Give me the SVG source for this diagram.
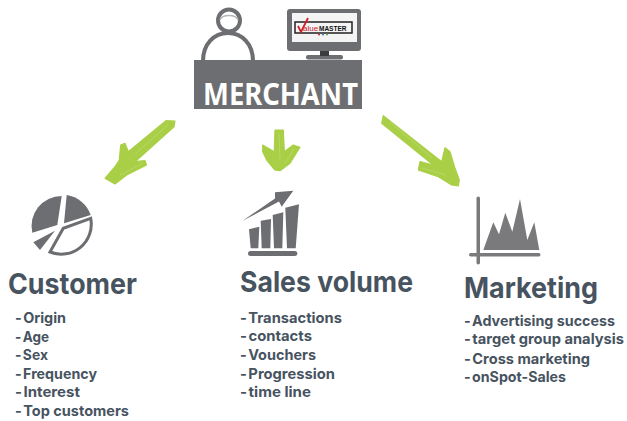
<svg xmlns="http://www.w3.org/2000/svg" width="627" height="421" viewBox="0 0 627 421">
<style>
.g{fill:#6d6e71}
.a{fill:#a9cf46;stroke:#a9cf46;stroke-width:1.200;stroke-linejoin:round}
.a2{fill:none;stroke:#c5df85;stroke-width:1;opacity:.5}
.h{font-family:Inter,"Noto Sans","Liberation Sans",sans-serif;font-weight:700;font-size:29px;fill:#47535f}
.t{font-family:Inter,"Noto Sans","Liberation Sans",sans-serif;font-weight:700;font-size:14.500px;fill:#47535f}
.d{word-spacing:-2px}
</style>
<rect width="627" height="421" fill="#fff"/>
<g id="connectors">
<g id="arrow-left">
<path class="a" d="M166 120.700L175 121L174 126.700L135 161.700L145 160.700L146.500 165L126.700 175L115 184L105 178.300L115 166.700L119.300 160L120.700 145L125 143.300L128.300 151.700Z"/>
<path class="a2" d="M168 125L135 154M143 163L120 175"/>
</g>
<g id="arrow-mid">
<path class="a" d="M275 130L283.300 130L284.300 151.700L293.300 145L300 147.300L290 163.300L280 170.700L275 170L266.700 160L262.700 151.700L262.700 145L274.300 151.700Z"/>
<path class="a2" d="M279 132L280 160M294 149L285 163"/>
</g>
<g id="arrow-right">
<path class="a" d="M383.300 115.700L441.700 161.700L445 147.700L450 151.700L455 168.300L459.300 180L458.300 186L451.700 185L438.300 176.700L418.300 170L420 161.700L433.300 165L381.700 123.300Z"/>
<path class="a2" d="M390 122L432 158M422 168L446 175"/>
</g>
</g>
<g id="merchant">
<path d="M203 61C203 44 214 33 228 33C242 33 253 44 253 61" fill="#fff" stroke="#6d6e71" stroke-width="4"/>
<circle cx="229" cy="20.500" r="11" fill="#fff" stroke="#6d6e71" stroke-width="4"/>
<path d="M220 20C222 14 236 14 238 20" fill="none" stroke="#b5b6b8" stroke-width="1.500"/>
<rect x="306" y="55" width="37" height="4.500" rx="2" class="g"/>
<rect x="320" y="50" width="9" height="6" fill="#3c3c3e"/>
<rect x="287" y="9" width="74" height="42" rx="3" class="g"/>
<rect x="292" y="13" width="65" height="29" fill="#f4f4f4"/>
<rect x="295" y="22" width="57" height="11" fill="#f4f4f4" stroke="#222" stroke-width="1.500"/>
<path d="M298 26L301 32L308 18" fill="none" stroke="#d0202a" stroke-width="1.800"/>
<text x="303" y="31" font-family="Liberation Sans,sans-serif" font-size="8" fill="#c8202a">alue</text>
<text x="319" y="31" font-family="Liberation Sans,sans-serif" font-weight="700" font-size="6.500" fill="#111">MASTER</text>
<circle cx="319" cy="34.500" r="1" fill="#c8202a"/><circle cx="323" cy="34.500" r="1" fill="#3a6fc0"/><circle cx="327" cy="34.500" r="1" fill="#5aa845"/>
<rect x="194" y="60" width="168" height="49" class="g"/>
<text x="203" y="105" font-family="Noto Sans,Liberation Sans,sans-serif" font-weight="700" font-size="31" fill="#fff" textLength="155" lengthAdjust="spacingAndGlyphs">MERCHANT</text>
</g>
<g id="customer">
<path class="g" d="M61.700 196L57.300 225L32.300 232.700A30 30 0 0 1 61.700 196Z"/>
<path class="g" d="M66.700 195L64 223.300L90.700 215A30 30 0 0 0 66.700 195Z"/>
<path class="g" d="M33.300 242.300L55 230.700L40 250Z"/>
<path d="M90.700 218.300L63.300 228.300L50 252A30 30 0 0 0 90.700 218.300Z" fill="#fff" stroke="#6d6e71" stroke-width="3"/>
<text class="h" x="8" y="294" textLength="129" lengthAdjust="spacingAndGlyphs">Customer</text>
<text class="t" x="15" y="323" textLength="51" lengthAdjust="spacingAndGlyphs"><tspan class="d">- </tspan>Origin</text>
<text class="t" x="15" y="342" textLength="34" lengthAdjust="spacingAndGlyphs"><tspan class="d">- </tspan>Age</text>
<text class="t" x="15" y="360" textLength="33" lengthAdjust="spacingAndGlyphs"><tspan class="d">- </tspan>Sex</text>
<text class="t" x="15" y="379" textLength="82" lengthAdjust="spacingAndGlyphs"><tspan class="d">- </tspan>Frequency</text>
<text class="t" x="15" y="397" textLength="65" lengthAdjust="spacingAndGlyphs"><tspan class="d">- </tspan>Interest</text>
<text class="t" x="15" y="416" textLength="114" lengthAdjust="spacingAndGlyphs"><tspan class="d">- </tspan>Top customers</text>
</g>
<g id="sales-volume">
<path class="g" d="M242.300 221L275 198.500L275 192.300L293.300 190.700L281.700 206.700L279 201.500Z"/>
<path class="g" d="M249 229.300L259.300 226.700L258.300 248.300L250.700 248.300Z"/>
<path class="g" d="M260.700 220.700L271 219L270.300 248.300L261.700 248.300Z"/>
<path class="g" d="M272.700 215L283.300 212.300L282.300 248.300L274 248.300Z"/>
<path class="g" d="M285.300 207.700L299 204.300L295.700 248.300L287 248.300Z"/>
<rect x="248" y="251" width="49.300" height="5" rx="2.500" class="g"/>
<text class="h" x="240" y="292" textLength="173" lengthAdjust="spacingAndGlyphs">Sales volume</text>
<text class="t" x="240" y="323" textLength="102" lengthAdjust="spacingAndGlyphs"><tspan class="d">- </tspan>Transactions</text>
<text class="t" x="240" y="341" textLength="72" lengthAdjust="spacingAndGlyphs"><tspan class="d">- </tspan>contacts</text>
<text class="t" x="240" y="360" textLength="76" lengthAdjust="spacingAndGlyphs"><tspan class="d">- </tspan>Vouchers</text>
<text class="t" x="240" y="379" textLength="95" lengthAdjust="spacingAndGlyphs"><tspan class="d">- </tspan>Progression</text>
<text class="t" x="240" y="397" textLength="71" lengthAdjust="spacingAndGlyphs"><tspan class="d">- </tspan>time line</text>
</g>
<g id="marketing">
<rect x="476.500" y="196.500" width="3.500" height="68" rx="1.700" fill="#7a7a7c"/>
<rect x="469" y="253" width="71.500" height="3.500" rx="1.700" fill="#7a7a7c"/>
<path fill="#7a7a7c" d="M483.300 250L493.300 222.300L499 234.300L505.300 212.700L512.300 231.700L520 199L527.300 240L534.300 222.300L539.300 250Z"/>
<text class="h" x="464" y="298" textLength="134" lengthAdjust="spacingAndGlyphs">Marketing</text>
<text class="t" x="464" y="326" textLength="151" lengthAdjust="spacingAndGlyphs"><tspan class="d">- </tspan>Advertising success</text>
<text class="t" x="464" y="344" textLength="160" lengthAdjust="spacingAndGlyphs"><tspan class="d">- </tspan>target group analysis</text>
<text class="t" x="464" y="364" textLength="126" lengthAdjust="spacingAndGlyphs"><tspan class="d">- </tspan>Cross marketing</text>
<text class="t" x="464" y="382" textLength="102" lengthAdjust="spacingAndGlyphs"><tspan class="d">- </tspan>onSpot-Sales</text>
</g>
</svg>
